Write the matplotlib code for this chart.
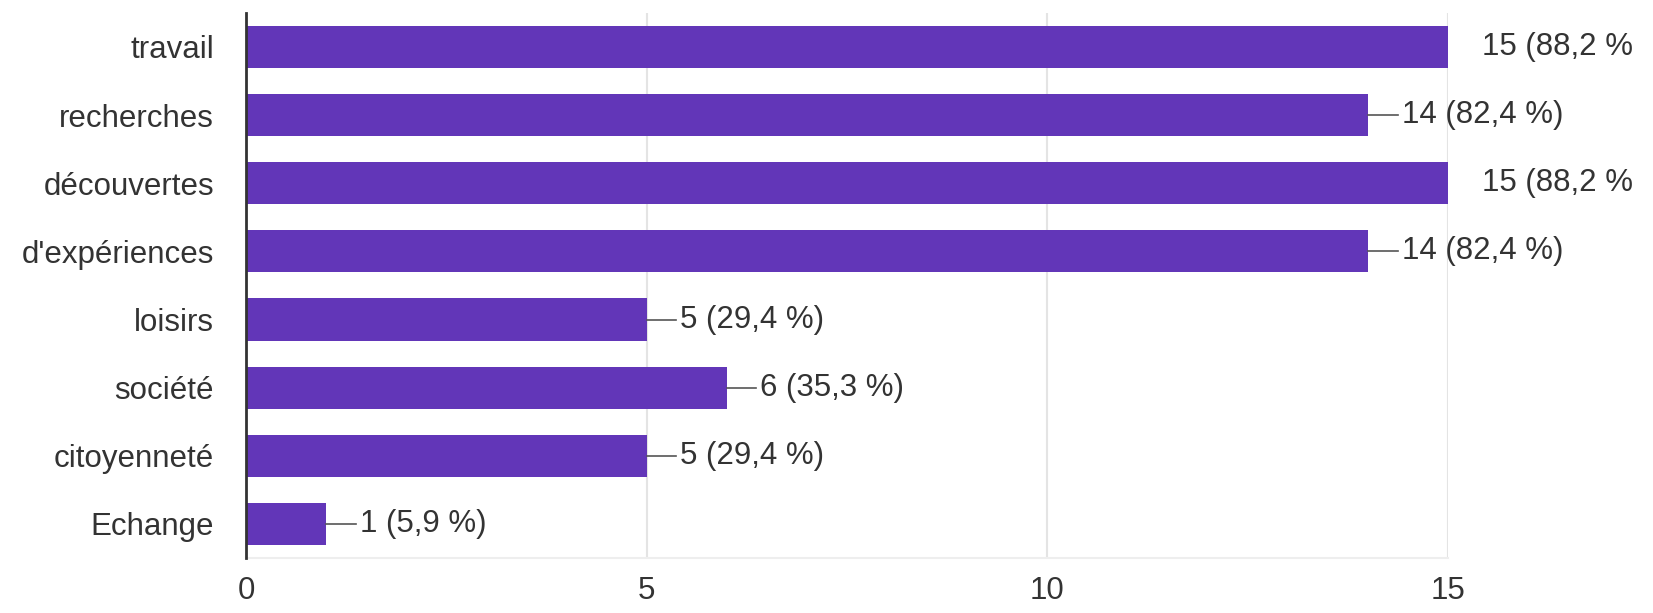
import matplotlib
matplotlib.use("Agg")
import matplotlib.pyplot as plt

categories = ["travail", "recherches", "découvertes", "d'expériences",
              "loisirs", "société", "citoyenneté", "Echange"]
counts = [15, 14, 15, 14, 5, 6, 5, 1]
value_labels = ["15 (88,2 %", "14 (82,4 %)", "15 (88,2 %", "14 (82,4 %)",
                "5 (29,4 %)", "6 (35,3 %)", "5 (29,4 %)", "1 (5,9 %)"]
xticks = [0, 5, 10, 15]

plt.rcParams["font.family"] = ["Liberation Sans", "DejaVu Sans"]
BAR = "#6236b8"
TXT = "#333333"

fig = plt.figure(figsize=(16.53, 6.13), dpi=100)
ax = fig.add_axes([0.1488, 0.0897, 0.876 - 0.1488, 0.979 - 0.0897])

y = list(range(len(categories)))
ax.barh(y, counts, height=0.62, color=BAR, zorder=3)
ax.set_ylim(len(categories) - 0.5, -0.5)
ax.set_xlim(0, 15)

# leader line + "n (pct)" label next to each bar
for yi, c, lab in zip(y, counts, value_labels):
    if c < 15:
        ax.plot([c, c + 0.37], [yi, yi], color="#555555", lw=1.2, zorder=4,
                clip_on=False)
    ax.text(c + 0.42, yi, lab, va="center", ha="left", fontsize=22.5,
            color=TXT, clip_on=False)

ax.set_xticks(xticks)
ax.set_xticklabels([str(t) for t in xticks])
ax.set_yticks(y)
ax.set_yticklabels(categories)
ax.tick_params(axis="both", length=0, labelsize=22.5, labelcolor=TXT)
ax.tick_params(axis="x", pad=13)
ax.tick_params(axis="y", pad=23)

ax.grid(axis="x", color="#e4e4e4", lw=1.5, zorder=0)
for s in ("top", "right"):
    ax.spines[s].set_visible(False)
ax.spines["bottom"].set_color("#eeeeee")
ax.spines["bottom"].set_linewidth(1.5)
ax.spines["left"].set_color("#333333")
ax.spines["left"].set_linewidth(2)
ax.spines["left"].set_zorder(5)

fig.savefig("out.png", dpi=100, facecolor="white")
